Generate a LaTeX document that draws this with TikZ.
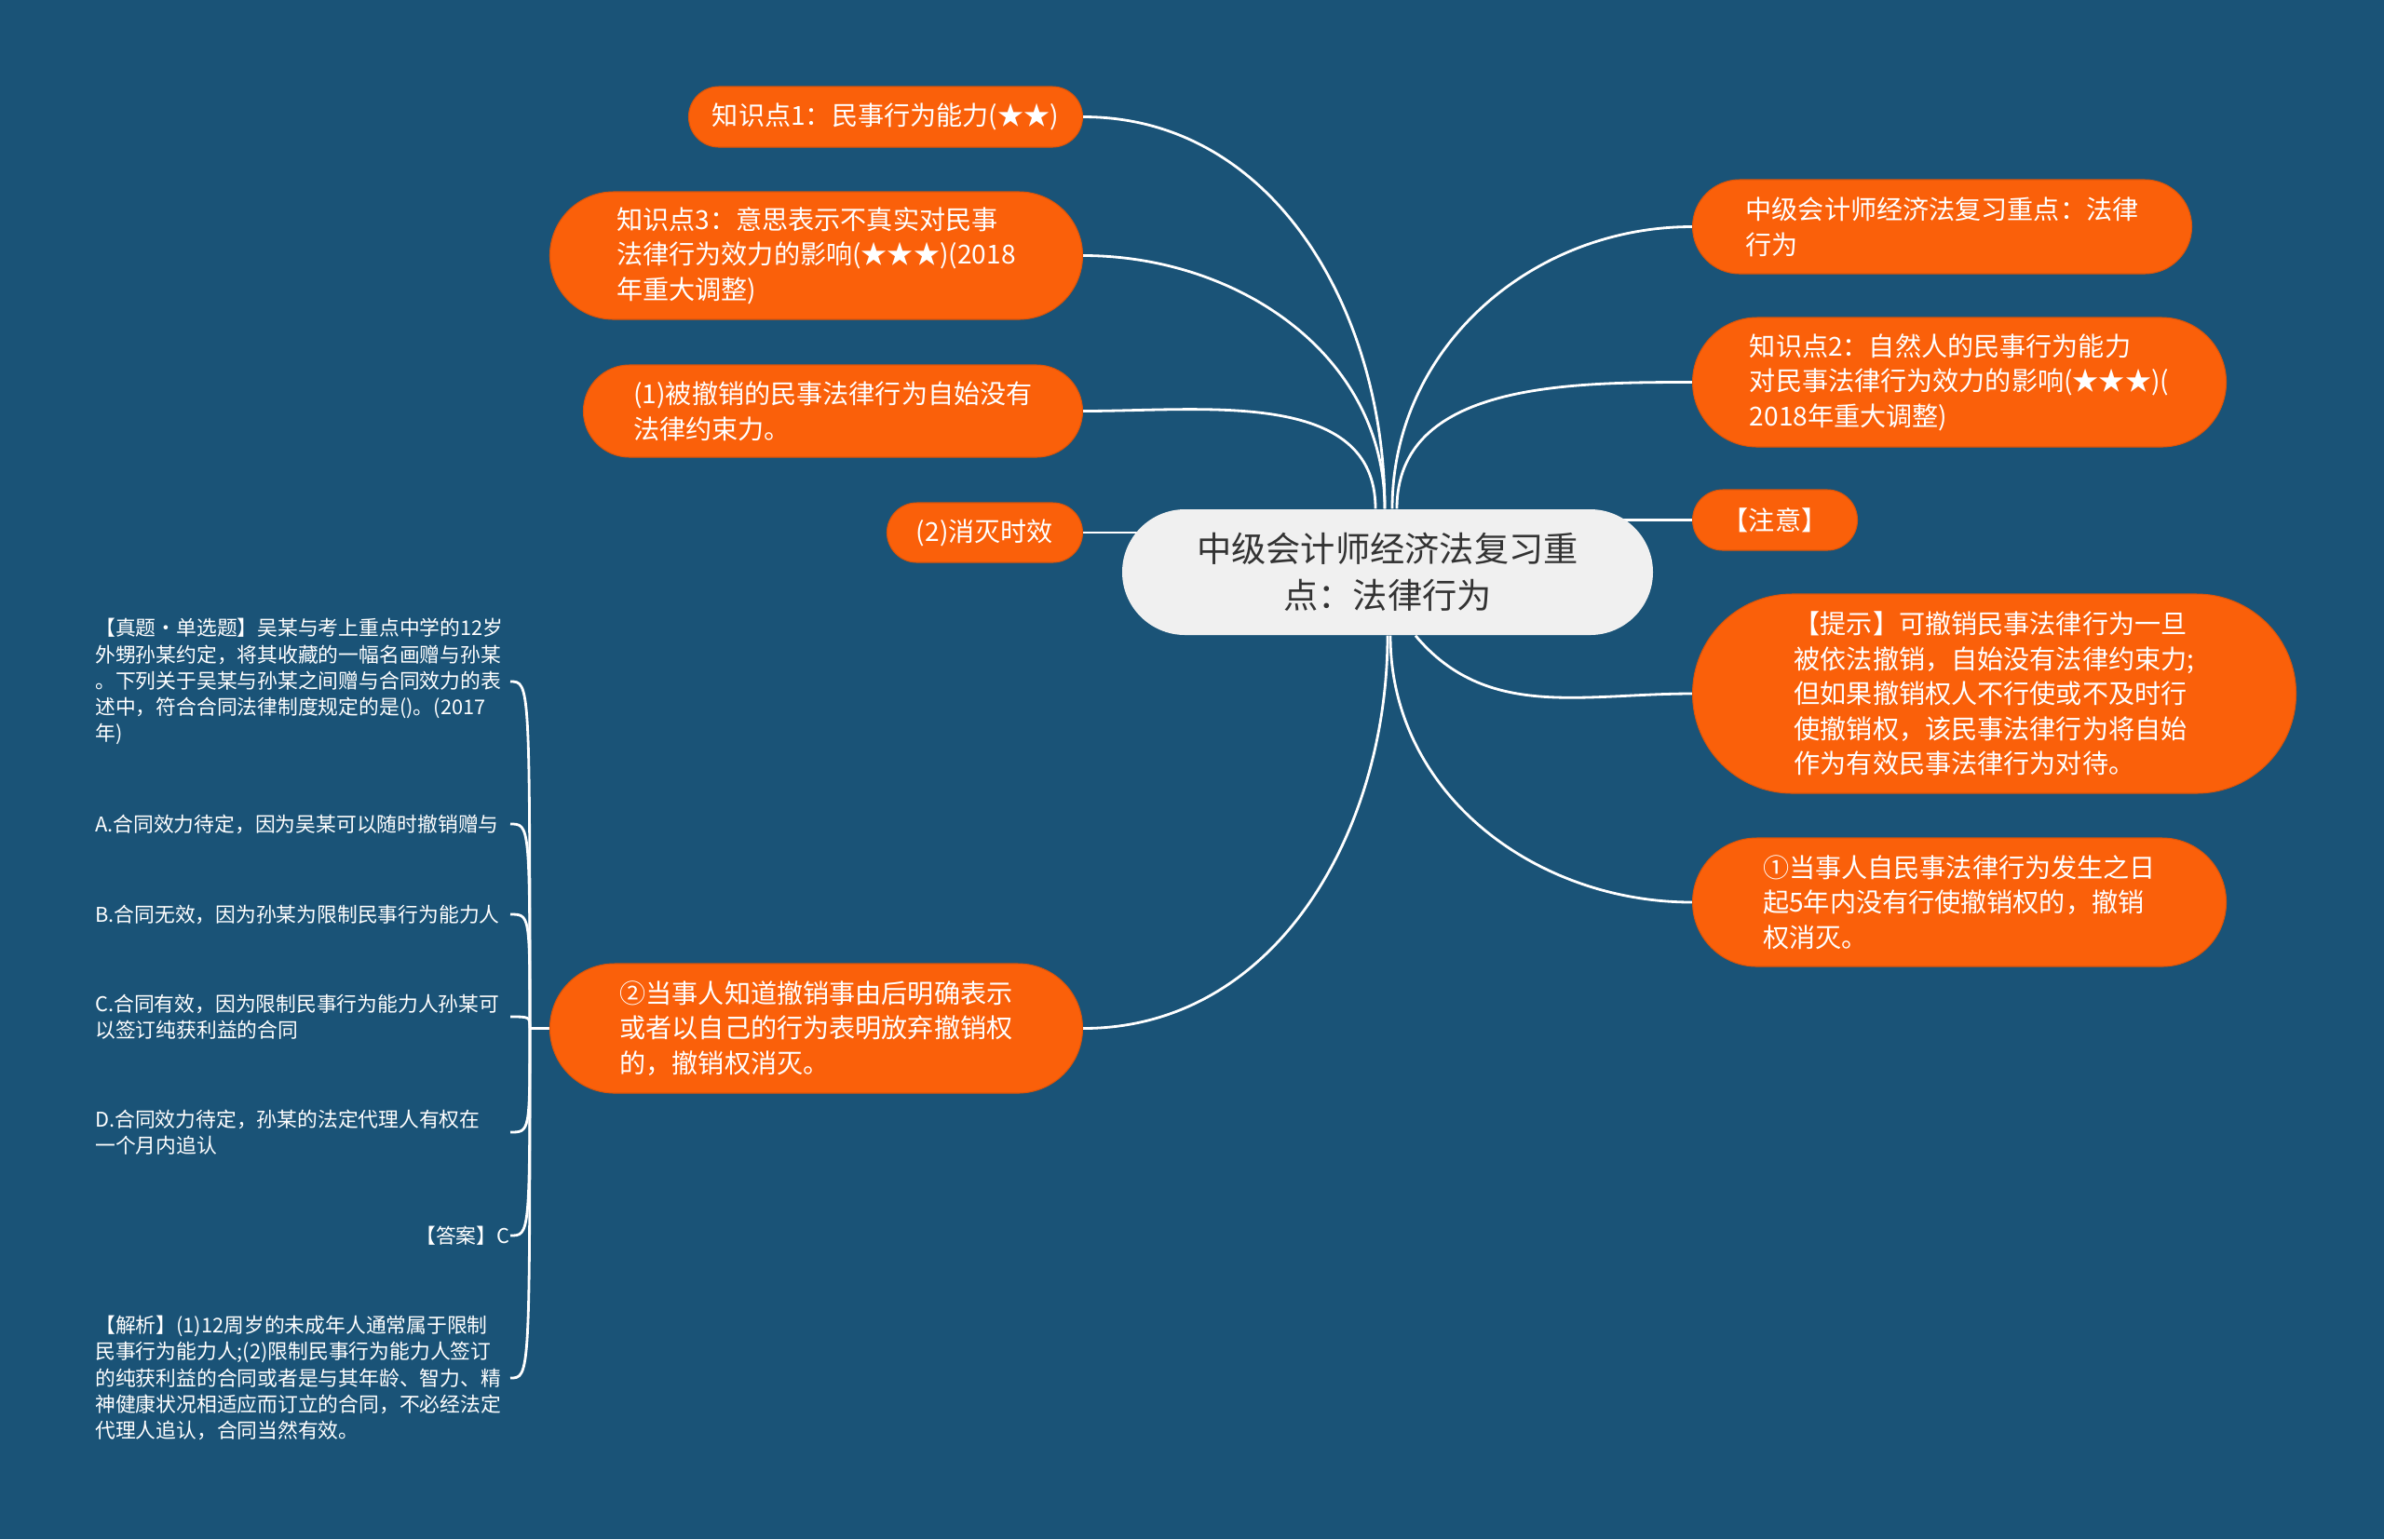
\documentclass[tikz,border=0pt]{standalone}
\usepackage{fontspec}
\setmainfont{Noto Sans CJK SC}
\usetikzlibrary{positioning,shapes.misc,backgrounds}
\definecolor{mmbg}{RGB}{26,83,119}
\definecolor{mmorange}{RGB}{250,96,10}
\definecolor{mmroot}{RGB}{240,240,240}
\definecolor{mmtext}{RGB}{51,51,51}

\begin{document}
\begin{tikzpicture}[
      topic/.style={rounded rectangle,fill=mmorange,draw=mmorange!88!black,line width=0.3pt,text=white,align=left,inner sep=0pt,font=\fontsize{8}{10.7}\selectfont},
      central/.style={rounded rectangle,fill=mmroot,text=mmtext,align=center,inner sep=0pt,font=\fontsize{10.6}{14.4}\selectfont},
      leaf/.style={text=white,align=left,text width=4.45cm,inner sep=0pt,font=\fontsize{6.2}{8}\selectfont},
      link/.style={draw=white,line width=0.8pt}]
    \useasboundingbox (0,0) rectangle (25.6,-16.53);
    \node[central,minimum width=5.7cm,minimum height=1.35cm] (root) at (14.9,-6.145) {中级会计师经济法复习重\\点：法律行为};

    \node[topic,anchor=east,minimum width=4.23cm,minimum height=0.65cm] (k1) at (11.63,-1.255) {知识点1：民事行为能力(★★)};
    \node[topic,anchor=east,minimum width=5.72cm,minimum height=1.37cm] (k3) at (11.63,-2.745) {知识点3：意思表示不真实对民事\\法律行为效力的影响(★★★)(2018\\年重大调整)};
    \node[topic,anchor=east,minimum width=5.36cm,minimum height=0.99cm] (c1) at (11.63,-4.415) {(1)被撤销的民事法律行为自始没有\\法律约束力。};
    \node[topic,anchor=east,minimum width=2.10cm,minimum height=0.64cm] (c2) at (11.63,-5.72) {(2)消灭时效};
    \node[topic,anchor=east,minimum width=5.72cm,minimum height=1.39cm] (s2) at (11.63,-11.045) {②当事人知道撤销事由后明确表示\\或者以自己的行为表明放弃撤销权\\的，撤销权消灭。};

    \node[topic,anchor=west,minimum width=5.36cm,minimum height=1.01cm] (r1) at (18.17,-2.435) {中级会计师经济法复习重点：法律\\行为};
    \node[topic,anchor=west,minimum width=5.73cm,minimum height=1.39cm] (k2) at (18.17,-4.105) {知识点2：自然人的民事行为能力\\对民事法律行为效力的影响(★★★)(\\2018年重大调整)};
    \node[topic,anchor=west,minimum width=1.77cm,minimum height=0.65cm] (note) at (18.17,-5.585) {【注意】};
    \node[topic,anchor=west,minimum width=6.48cm,minimum height=2.14cm] (tip) at (18.17,-7.45) {【提示】可撤销民事法律行为一旦\\被依法撤销，自始没有法律约束力;\\但如果撤销权人不行使或不及时行\\使撤销权，该民事法律行为将自始\\作为有效民事法律行为对待。};
    \node[topic,anchor=west,minimum width=5.73cm,minimum height=1.38cm] (s1) at (18.17,-9.69) {①当事人自民事法律行为发生之日\\起5年内没有行使撤销权的，撤销\\权消灭。};

    \node[leaf,anchor=east] (l1) at (5.48,-7.32) {【真题•单选题】吴某与考上重点中学的12岁\\外甥孙某约定，将其收藏的一幅名画赠与孙某\\。下列关于吴某与孙某之间赠与合同效力的表\\述中，符合合同法律制度规定的是()。(2017\\年)};
    \node[leaf,anchor=east] (l2) at (5.48,-8.85) {A.合同效力待定，因为吴某可以随时撤销赠与};
    \node[leaf,anchor=east] (l3) at (5.48,-9.82) {B.合同无效，因为孙某为限制民事行为能力人};
    \node[leaf,anchor=east] (l4) at (5.48,-10.92) {C.合同有效，因为限制民事行为能力人孙某可\\以签订纯获利益的合同};
    \node[leaf,anchor=east] (l5) at (5.48,-12.16) {D.合同效力待定，孙某的法定代理人有权在\\一个月内追认};
    \node[leaf,anchor=east,align=right] (l6) at (5.48,-13.27) {【答案】C};
    \node[leaf,anchor=east] (l7) at (5.48,-14.80) {【解析】(1)12周岁的未成年人通常属于限制\\民事行为能力人;(2)限制民事行为能力人签订\\的纯获利益的合同或者是与其年龄、智力、精\\神健康状况相适应而订立的合同，不必经法定\\代理人追认，合同当然有效。};
    \coordinate[left=0.21cm of s2.west] (fork);

    \begin{scope}[on background layer]
      \fill[mmbg] (0,0) rectangle (25.6,-16.53);
      \draw[link] ([xshift=-0.3mm]root.north) to[out=90,in=0] (k1.east);
      \draw[link] ([xshift=-0.3mm]root.north) to[out=90,in=0] (k3.east);
      \draw[link] ([xshift=-1.3mm]root.north) to[out=90,in=0] (c1.east);
      \draw[link] (c2.east) -- (c2.east -| root.center);
      \draw[link] (root.south) to[out=-90,in=0] (s2.east);
      \draw[link] ([xshift=0.5mm]root.north) to[out=90,in=180] (r1.west);
      \draw[link] ([xshift=1mm]root.north) to[out=90,in=180] (k2.west);
      \draw[link] (root.center |- note.west) -- (note.west);
      \draw[link] ([xshift=3mm]root.south) to[out=-50,in=180] (tip.west);
      \draw[link] ([xshift=0.3mm]root.south) to[out=-90,in=180] (s1.west);
      \draw[link] (s2.west) -- (fork);
      \foreach \l in {l1,l2,l3,l4,l5,l6,l7}
        \draw[link] (fork) .. controls (fork |- \l.east) and (fork |- \l.east) .. (\l.east);
    \end{scope}
  \end{tikzpicture}
\end{document}
